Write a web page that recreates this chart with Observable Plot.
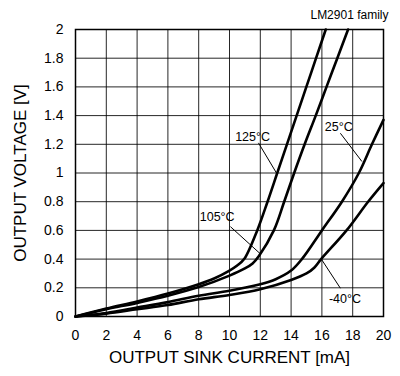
<!DOCTYPE html>
<html>
<head>
<meta charset="utf-8">
<script src="https://cdn.jsdelivr.net/npm/d3@7"></script>
<script src="https://cdn.jsdelivr.net/npm/@observablehq/plot@0.6"></script>
<style>
  html, body { margin: 0; padding: 0; background: #fff; }
</style>
</head>
<body>
<div id="chart"></div>
<script>
// Tick values
const xTicks = [0, 2, 4, 6, 8, 10, 12, 14, 16, 18, 20];
const yTicks = [0, 0.2, 0.4, 0.6, 0.8, 1.0, 1.2, 1.4, 1.6, 1.8, 2.0];

// Series: output sink current [mA] vs output voltage [V]
const seriesNames = ["125°C", "105°C", "25°C", "-40°C"];
const i125 = [0, 2, 4, 6, 8, 9, 10, 10.5, 10.95, 11.8, 12.47, 13.1, 13.73, 14.36, 14.99, 15.62, 16.25];
const v125 = [0, 0.055, 0.105, 0.16, 0.225, 0.265, 0.32, 0.355, 0.40, 0.60, 0.80, 1.0, 1.2, 1.4, 1.6, 1.8, 2.0];
const i105 = [0, 2, 4, 6, 8, 10, 11, 11.5, 11.9, 12.88, 13.55, 14.2, 14.88, 15.6, 16.3, 17.0, 17.7];
const v105 = [0, 0.05, 0.095, 0.145, 0.205, 0.285, 0.335, 0.37, 0.42, 0.60, 0.80, 1.0, 1.2, 1.4, 1.6, 1.8, 2.0];
const i25 = [0, 2, 4, 6, 8, 10, 12, 13, 14, 14.7, 16, 17.3, 18.4, 19.25, 20];
const v25 = [0, 0.025, 0.062, 0.1, 0.145, 0.18, 0.225, 0.26, 0.32, 0.40, 0.60, 0.80, 1.0, 1.2, 1.37];
const iM40 = [0, 2, 4, 6, 8, 10, 12, 14, 15, 15.5, 15.95, 17.6, 19.0, 20];
const vM40 = [0, 0.02, 0.05, 0.08, 0.12, 0.15, 0.19, 0.255, 0.30, 0.34, 0.40, 0.60, 0.80, 0.93];

// Annotation labels (data coordinates) and leader lines
const labelText = ["125°C", "105°C", "25°C", "-40°C"];
const labelX = [11.5, 9.2, 17.1, 17.5];
const labelY = [1.25, 0.695, 1.32, 0.125];
const leaderX1 = [11.88, 10.06, 17.2, 17.2];
const leaderY1 = [1.21, 0.626, 1.277, 0.197];
const leaderX2 = [13.05, 12.01, 18.6, 16.0];
const leaderY2 = [1.0, 0.436, 1.08, 0.394];

const titleText = "LM2901 family";
const xTitle = "OUTPUT SINK CURRENT [mA]";
const yTitle = "OUTPUT VOLTAGE [V]";

// Build tables
const seriesI = [i125, i105, i25, iM40];
const seriesV = [v125, v105, v25, vM40];
const rows = [];
seriesNames.forEach((name, k) => {
  seriesI[k].forEach((I, j) => rows.push({series: name, I, V: seriesV[k][j]}));
});
const labels = labelText.map((t, k) => ({t, x: labelX[k], y: labelY[k]}));
const leaders = labelText.map((t, k) => ({x1: leaderX1[k], y1: leaderY1[k], x2: leaderX2[k], y2: leaderY2[k]}));

const fmt = d => String(Math.round(d * 10) / 10);

const chart = Plot.plot({
  width: 400,
  height: 376,
  marginLeft: 75,
  marginRight: 17,
  marginTop: 29,
  marginBottom: 60,
  style: {fontFamily: "'Liberation Sans', Arial, sans-serif", fontSize: "13px", background: "#fff", color: "#000"},
  x: {domain: [0, 20], label: null},
  y: {domain: [0, 2], label: null},
  marks: [
    Plot.gridX(xTicks, {stroke: "#000", strokeOpacity: 0.85, strokeWidth: 1}),
    Plot.gridY(yTicks, {stroke: "#000", strokeOpacity: 0.85, strokeWidth: 1}),
    Plot.axisX(xTicks, {tickSize: 0, tickPadding: 14, fontSize: 14, label: null, tickFormat: fmt}),
    Plot.axisY(yTicks, {tickSize: 0, tickPadding: 12, fontSize: 14, label: null, tickFormat: fmt}),
    Plot.frame({stroke: "#000", strokeWidth: 1.5}),
    Plot.line(rows, {x: "I", y: "V", z: "series", stroke: "#000", strokeWidth: 2.6, curve: "catmull-rom"}),
    Plot.link(leaders, {x1: "x1", y1: "y1", x2: "x2", y2: "y2", stroke: "#000", strokeWidth: 1}),
    Plot.text(labels, {x: "x", y: "y", text: "t", fontSize: 12.5, fill: "#000"}),
    Plot.text([titleText], {frameAnchor: "top-right", dx: 5, dy: -14, lineAnchor: "middle", fontSize: 12, fill: "#000"}),
    Plot.text([xTitle], {frameAnchor: "bottom", dy: 46, fontSize: 17, fill: "#000"}),
    Plot.text([yTitle], {frameAnchor: "left", dx: -55, rotate: -90, textAnchor: "middle", fontSize: 17, fill: "#000"})
  ]
});
document.getElementById("chart").appendChild(chart);
</script>
</body>
</html>
